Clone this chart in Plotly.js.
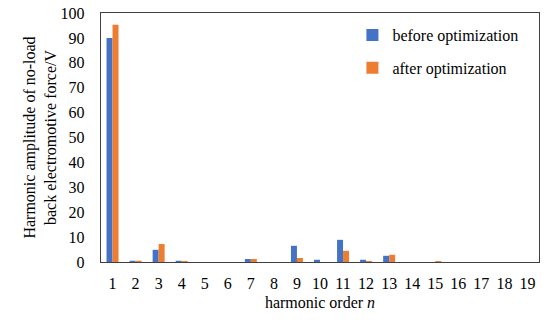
<!DOCTYPE html>
<html>
<head>
<meta charset="utf-8">
<script src="https://cdn.plot.ly/plotly-3.0.1.min.js"></script>
<style>html,body{margin:0;padding:0;background:#fff;}#chart{width:550px;height:320px;}</style>
</head>
<body>
<div id="chart"></div>
<script>
const harmonicOrders = ['1','2','3','4','5','6','7','8','9','10','11','12','13','14','15','16','17','18','19'];
const beforeOptimization = [90.0, 0.5, 4.9, 0.5, 0, 0, 1.2, 0, 6.5, 0.9, 8.9, 0.9, 2.5, 0, 0, 0, 0, 0, 0];
const afterOptimization  = [95.3, 0.5, 7.2, 0.4, 0, 0, 1.2, 0, 1.6, 0, 4.5, 0.4, 2.9, 0, 0.4, 0, 0, 0, 0];
const yTicks = [0,10,20,30,40,50,60,70,80,90,100];

const font = {family: 'Liberation Serif', color: '#000', size: 16};

const traces = [
  {type: 'bar', name: 'before optimization', x: harmonicOrders, y: beforeOptimization,
   legendgroup: 'a', marker: {color: '#4472C4'}},
  {type: 'bar', name: 'after optimization', x: harmonicOrders, y: afterOptimization,
   legendgroup: 'b', marker: {color: '#ED7D31'}}
];

const layout = {
  width: 550, height: 320,
  margin: {l: 101, r: 11, t: 13, b: 58},
  paper_bgcolor: '#fff', plot_bgcolor: '#fff',
  font: font,
  barmode: 'group', bargap: 0.48, bargroupgap: 0,
  showlegend: true,
  legend: {x: 0.574, y: 0.98, xanchor: 'left', yanchor: 'top', font: font,
           bgcolor: 'rgba(0,0,0,0)', traceorder: 'grouped', tracegroupgap: 9, itemwidth: 30},
  xaxis: {type: 'category', showline: true, linecolor: '#404040', linewidth: 1.3,
          mirror: true, ticks: '', tickfont: font, showgrid: false, zeroline: false,
          ticklabelstandoff: 6,
          title: {text: 'harmonic order <i>n</i>', font: font, standoff: 6}},
  yaxis: {range: [0, 100], tickvals: yTicks, showline: true, linecolor: '#404040', linewidth: 1.3,
          mirror: true, ticks: '', tickfont: font, showgrid: false, zeroline: false,
          ticklabelstandoff: 12,
          title: {text: 'Harmonic amplitude of no-load<br>back electromotive force/V', font: font, standoff: 0}}
};

Plotly.newPlot('chart', traces, layout, {displayModeBar: false, staticPlot: true});
</script>
</body>
</html>
